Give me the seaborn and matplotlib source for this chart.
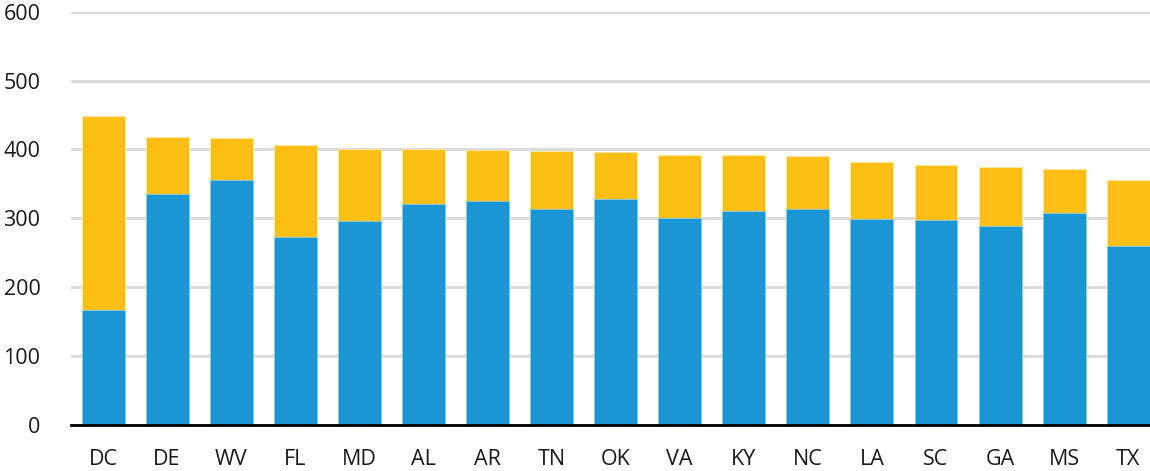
import matplotlib
matplotlib.use("Agg")
import matplotlib.pyplot as plt
import seaborn as sns
import pandas as pd

states = ["DC", "DE", "WV", "FL", "MD", "AL", "AR", "TN", "OK", "VA", "KY", "NC", "LA", "SC", "GA", "MS", "TX"]
blue_vals = [167, 335, 356, 273, 296, 321, 325, 314, 328, 301, 310, 313, 299, 298, 289, 308, 260]
total_vals = [449, 418, 417, 407, 400, 400, 399, 398, 397, 392, 392, 391, 382, 378, 374, 372, 356]
y_ticks = [0, 100, 200, 300, 400, 500, 600]

BLUE = "#1A96D4"
YELLOW = "#FDBF13"

sns.set_theme(style="white")
plt.rcParams['font.family'] = ['Open Sans', 'DejaVu Sans']

df = pd.DataFrame({"state": states, "blue": blue_vals, "total": total_vals})

fig = plt.figure(figsize=(11.5, 4.71), dpi=100)
ax = fig.add_axes([71/1150, 1 - 425/471, 1 - 71/1150, (425 - 11.7)/471])

sns.barplot(data=df, x="state", y="total", color=YELLOW, width=0.67,
            edgecolor="#FFE9A8", linewidth=0.6, saturation=1, ax=ax, zorder=2)
sns.barplot(data=df, x="state", y="blue", color=BLUE, width=0.67,
            edgecolor="#8CCBEA", linewidth=0.6, saturation=1, ax=ax, zorder=3)

ax.set_ylim(0, 600)
ax.set_xlim(-0.5, 16.34)
ax.set_yticks(y_ticks)
ax.set_yticklabels([str(t) for t in y_ticks])
ax.yaxis.grid(True, color="#D9D9D9", linewidth=2)
ax.set_axisbelow(True)
ax.set_xlabel("")
ax.set_ylabel("")
for s in ["top", "right", "left"]:
    ax.spines[s].set_visible(False)
ax.spines["bottom"].set_color("black")
ax.spines["bottom"].set_linewidth(2)
ax.spines["bottom"].set_zorder(5)
ax.tick_params(axis="both", length=0, labelsize=15.5, colors="#1a1a1a")
ax.tick_params(axis="x", pad=17)
ax.tick_params(axis="y", pad=22)

fig.savefig("out.png", dpi=100)
